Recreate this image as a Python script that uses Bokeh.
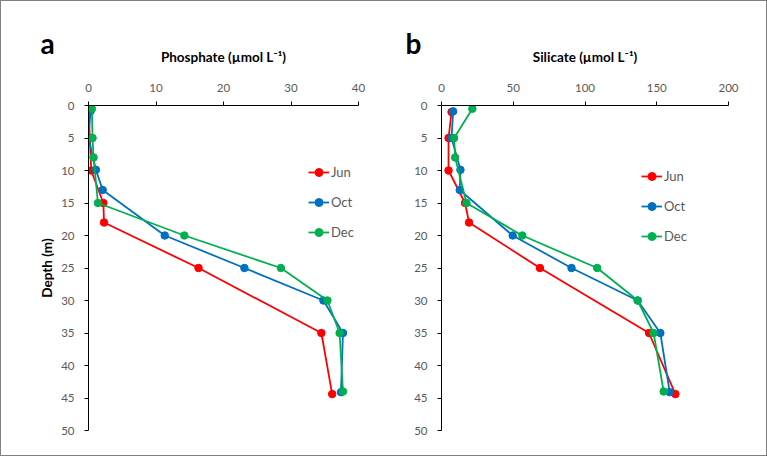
from bokeh.plotting import figure
from bokeh.layouts import row
from bokeh.models import Range1d, FixedTicker, Title, Legend
from bokeh.embed import file_html
from bokeh.resources import INLINE

# ---- data ----
months = ["Jun", "Oct", "Dec"]
colors = ["#FF0000", "#0070C0", "#00B050"]

depth_jun = [1.0, 5.0, 10.0, 15.0, 18.0, 25.0, 35.0, 44.4]
depth_oct = [0.9, 5.0, 9.9, 13.0, 20.0, 25.0, 30.0, 35.0, 44.1]
depth_dec = [0.5, 5.0, 8.0, 15.0, 20.0, 25.0, 30.0, 35.0, 44.0]

phos_jun = [0.0, 0.2, 0.4, 2.2, 2.3, 16.3, 34.5, 36.1]
phos_oct = [0.3, 0.0, 1.1, 2.1, 11.3, 23.1, 34.8, 37.7, 37.4]
phos_dec = [0.5, 0.6, 0.75, 1.4, 14.2, 28.5, 35.4, 37.2, 37.7]

sil_jun = [7.0, 4.9, 4.9, 16.4, 19.2, 68.6, 144.6, 163.0]
sil_oct = [8.1, 7.0, 13.2, 12.7, 49.6, 90.6, 136.7, 152.5, 159.0]
sil_dec = [21.5, 8.8, 9.5, 17.4, 56.3, 108.5, 136.7, 147.8, 154.8]

phos_ticks = [0, 10, 20, 30, 40]
sil_ticks = [0, 50, 100, 150, 200]
depth_ticks = [0, 5, 10, 15, 20, 25, 30, 35, 40, 45, 50]

FONT = "Lato"
GRAY = "#595959"


def make_panel(width, xmax, xticks, title, series, depths, mb_left, mb_right,
               mb_top, legend_loc, letter, letter_offset, ylabel):
    p = figure(width=width, height=454, output_backend="svg", toolbar_location=None,
               x_range=Range1d(0, xmax), y_range=Range1d(50, 0),
               x_axis_location="above", min_border_left=mb_left,
               min_border_right=mb_right, min_border_top=mb_top, min_border_bottom=25)
    p.outline_line_color = None
    p.grid.visible = False
    p.background_fill_color = "white"
    p.border_fill_color = "white"
    for ax in (p.xaxis[0], p.yaxis[0]):
        ax.axis_line_color = "black"
        ax.major_tick_line_color = "black"
        ax.major_tick_out = 4
        ax.major_tick_in = 0
        ax.minor_tick_line_color = None
        ax.major_label_text_font = FONT
        ax.major_label_text_font_size = "11.5px"
        ax.major_label_text_color = GRAY
    p.xaxis.ticker = FixedTicker(ticks=xticks)
    p.yaxis.ticker = FixedTicker(ticks=depth_ticks)
    p.xaxis.major_label_standoff = 10
    p.yaxis.major_label_standoff = 10
    p.xaxis.axis_label = title
    p.xaxis.axis_label_text_font = FONT
    p.xaxis.axis_label_text_font_style = "bold"
    p.xaxis.axis_label_text_font_size = "13.5px"
    p.xaxis.axis_label_text_color = "black"
    p.xaxis.axis_label_standoff = 16
    if ylabel:
        p.yaxis.axis_label = ylabel
        p.yaxis.axis_label_text_font = FONT
        p.yaxis.axis_label_text_font_style = "bold"
        p.yaxis.axis_label_text_font_size = "13.5px"
        p.yaxis.axis_label_text_color = "black"
        p.yaxis.axis_label_standoff = 3

    items = []
    for name, col, vals, d in zip(months, colors, series, depths):
        r1 = p.line(vals, d, line_color=col, line_width=1.8)
        r2 = p.scatter(vals, d, marker="circle", size=7.5, fill_color=col, line_color=col)
        items.append((name, [r1, r2]))
    leg = Legend(items=items, location=legend_loc)
    leg.background_fill_alpha = 0
    leg.border_line_alpha = 0
    leg.padding = 0
    leg.margin = 0
    leg.spacing = 10
    leg.glyph_height = 20
    leg.glyph_width = 21
    leg.label_height = 20
    leg.label_standoff = 2
    leg.label_text_font = FONT
    leg.label_text_font_size = "13px"
    leg.label_text_color = GRAY
    p.add_layout(leg, "center")

    t = Title(text=letter, align="left", offset=letter_offset, standoff=-29,
              text_font=FONT, text_font_style="bold", text_font_size="28px",
              text_color="black")
    p.add_layout(t, "above")
    return p


p1 = make_panel(383, 40, phos_ticks, "Phosphate (µmol L⁻¹)",
                [phos_jun, phos_oct, phos_dec], [depth_jun, depth_oct, depth_dec],
                87, 26, 104, (220, 188), "a", -48, "Depth (m)")
p2 = make_panel(382, 200, sil_ticks, "Silicate (µmol L⁻¹)",
                [sil_jun, sil_oct, sil_dec], [depth_jun, depth_oct, depth_dec],
                57, 38, 103, (200, 184), "b", -36, None)

layout = row(p1, p2, styles={"border": "1px solid #808080"})

open("out.html", "w").write(file_html(layout, INLINE))
